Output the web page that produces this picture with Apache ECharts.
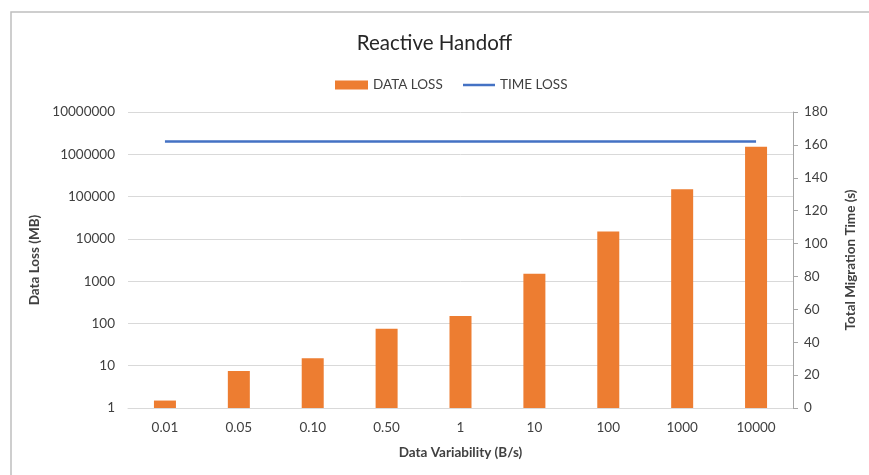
<!DOCTYPE html>
<html>
<head>
<meta charset="utf-8">
<script src="https://cdn.jsdelivr.net/npm/echarts@6/dist/echarts.min.js"></script>
<style>
  html, body { margin: 0; padding: 0; background: #fff; }
  #chart { width: 869px; height: 475px; }
</style>
</head>
<body>
<div id="chart"></div>
<script>
// Data variability categories (B/s)
const categories = ['0.01', '0.05', '0.10', '0.50', '1', '10', '100', '1000', '10000'];
// Data loss per category (MB), log scale
const dataLoss = [1.5, 7.5, 15, 75, 150, 1500, 15000, 150000, 1500000];
// Total migration time (s)
const timeLoss = [162, 162, 162, 162, 162, 162, 162, 162, 162];

const FONT = 'Lato, "Open Sans", sans-serif';
const TXT = '#404040';
const LABEL_SIZE = 13.5;

const chart = echarts.init(document.getElementById('chart'), null, { renderer: 'canvas' });

chart.setOption({
  animation: false,
  backgroundColor: '#fff',
  textStyle: { fontFamily: FONT },
  graphic: [{
    type: 'rect',
    shape: { x: 11, y: 12, width: 900, height: 500 },
    style: { fill: 'none', stroke: '#bfbfbf', lineWidth: 1.5 },
    silent: true
  }],
  title: {
    text: 'Reactive Handoff',
    left: 'center',
    top: 28,
    textStyle: { fontFamily: FONT, fontSize: 20.5, fontWeight: 'normal', color: '#262626' }
  },
  legend: [{
    data: [{ name: 'DATA LOSS', icon: 'rect' }],
    left: 330,
    top: 73,
    itemWidth: 33,
    itemHeight: 9,
    itemGap: 4,
    textStyle: { fontFamily: FONT, fontSize: 13.5, color: TXT }
  }, {
    data: [{ name: 'TIME LOSS', icon: 'rect' }],
    left: 458,
    top: 73,
    itemWidth: 32,
    itemHeight: 2.5,
    itemGap: 3,
    textStyle: { fontFamily: FONT, fontSize: 13.5, color: TXT }
  }],
  grid: { left: 128, right: 76, top: 112, bottom: 67 },
  xAxis: {
    type: 'category',
    data: categories,
    boundaryGap: true,
    axisLine: { show: true, lineStyle: { color: '#d9d9d9', width: 1 } },
    axisTick: { show: false },
    axisLabel: { color: TXT, fontSize: LABEL_SIZE, fontFamily: FONT, margin: 13 },
    name: 'Data Variability (B/s)',
    nameLocation: 'middle',
    nameGap: 38,
    nameTextStyle: { fontFamily: FONT, fontSize: 13.5, fontWeight: 'bold', color: TXT }
  },
  yAxis: [{
    type: 'log',
    logBase: 10,
    min: 1,
    max: 10000000,
    axisLine: { show: false },
    axisTick: { show: false },
    splitLine: { show: true, lineStyle: { color: '#d9d9d9', width: 1 } },
    axisLabel: {
      color: TXT, fontSize: LABEL_SIZE, fontFamily: FONT, margin: 13,
      formatter: v => String(Math.round(v))
    },
    name: 'Data Loss (MB)',
    nameLocation: 'middle',
    nameRotate: 90,
    nameGap: 77,
    nameTextStyle: { fontFamily: FONT, fontSize: 13.5, fontWeight: 'bold', color: TXT }
  }, {
    type: 'value',
    min: 0,
    max: 180,
    interval: 20,
    position: 'right',
    axisLine: { show: true, lineStyle: { color: '#a6a6a6', width: 1 } },
    axisTick: { show: true, length: 5, inside: false, lineStyle: { color: '#a6a6a6' } },
    splitLine: { show: false },
    axisLabel: { color: TXT, fontSize: LABEL_SIZE, fontFamily: FONT, margin: 11 },
    name: 'Total Migration Time (s)',
    nameLocation: 'middle',
    nameRotate: 90,
    nameGap: 51,
    nameTextStyle: { fontFamily: FONT, fontSize: 13.5, fontWeight: 'bold', color: TXT }
  }],
  series: [{
    name: 'DATA LOSS',
    type: 'bar',
    data: dataLoss,
    yAxisIndex: 0,
    barWidth: 22,
    itemStyle: { color: '#ED7D31' }
  }, {
    name: 'TIME LOSS',
    type: 'line',
    data: timeLoss,
    yAxisIndex: 1,
    symbol: 'none',
    lineStyle: { color: '#4472C4', width: 2.5 },
    itemStyle: { color: '#4472C4' }
  }]
});
</script>
</body>
</html>
